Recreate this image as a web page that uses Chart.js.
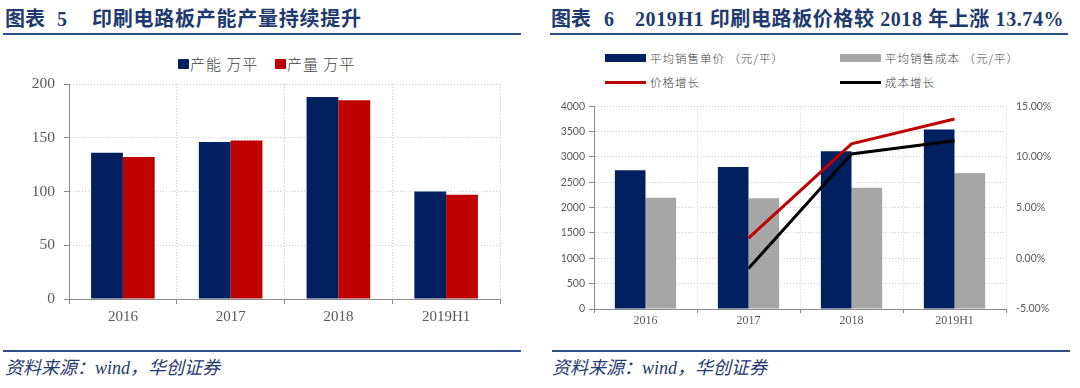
<!DOCTYPE html>
<html><head><meta charset="utf-8">
<script src="https://cdn.jsdelivr.net/npm/chart.js@4.4.1/dist/chart.umd.min.js"></script>
<style>
body{margin:0;width:1080px;height:388px;background:#fff;position:relative;overflow:hidden;font-family:"Noto Sans CJK SC",sans-serif;}
.t{position:absolute;top:7px;line-height:24px;height:24px;color:#1F3A6E;font-weight:700;font-size:20px;white-space:nowrap;font-family:"Liberation Serif","Noto Sans CJK SC",serif;}
.rule{position:absolute;height:2px;background:#2F4F86;}
.src{position:absolute;top:357px;line-height:22px;font-style:italic;color:#1F3A6E;font-size:18px;white-space:nowrap;font-family:"Liberation Serif","Noto Sans CJK SC",serif;}
canvas{position:absolute;}
.lg{position:absolute;font-size:11.5px;color:#404040;letter-spacing:1px;white-space:nowrap;font-weight:300;line-height:14px;}
.lg i{position:absolute;left:-45px;width:41px;}
.lg1{position:absolute;font-size:15px;color:#404040;letter-spacing:1px;white-space:nowrap;font-weight:300;line-height:20px;top:54px;}
.lg1 i{position:absolute;left:-12px;top:5px;width:11px;height:10px;border-radius:1px;}
</style></head>
<body>
<div class="t" style="left:5px">图表</div>
<div class="t" style="left:57px">5</div>
<div class="t" style="left:92px;letter-spacing:0.75px">印刷电路板产能产量持续提升</div>
<div class="rule" style="left:3px;width:518px;top:33px"></div>

<div class="t" style="left:551px">图表</div>
<div class="t" style="left:604px">6</div>
<div class="t" style="left:635px;letter-spacing:0.6px">2019H1 印刷电路板价格较 2018 年上涨 13.74%</div>
<div class="rule" style="left:550px;width:518px;top:33px"></div>

<div class="rule" style="left:3px;width:518px;top:350px"></div>
<div class="rule" style="left:552px;width:518px;top:350px"></div>
<div class="src" style="left:5px">资料来源：wind，华创证券</div>
<div class="src" style="left:552px">资料来源：wind，华创证券</div>

<div id="lg1"></div>
<canvas id="c1" width="520" height="298" style="left:0;top:40px;width:520px;height:298px"></canvas>
<div id="lg2"></div>
<canvas id="c2" width="540" height="250" style="left:540px;top:90px;width:540px;height:250px"></canvas>

<script>
// ---- data: chart 5 ----
const categories = ['2016', '2017', '2018', '2019H1'];
const capacityLabel = '产能 万平';
const outputLabel = '产量 万平';
const capacity = [136, 146, 188, 100];
const output = [132, 147.5, 185, 97];
const leftTicks = [0, 50, 100, 150, 200];

// ---- data: chart 6 ----
const priceLabel = '平均销售单价 （元/平）';
const costLabel = '平均销售成本 （元/平）';
const priceGrowthLabel = '价格增长';
const costGrowthLabel = '成本增长';
const avgPrice = [2736, 2800, 3111, 3540];
const avgCost = [2195, 2184, 2392, 2684];
const priceGrowth = [null, 2.0, 11.3, 13.74];
const costGrowth = [null, -1.0, 10.3, 11.6];
const priceTicks = [0, 500, 1000, 1500, 2000, 2500, 3000, 3500, 4000];
const growthTicks = [-5, 0, 5, 10, 15];

const NAVY = '#002060', RED = '#C00000', GRAY = '#A6A6A6', BLACK = '#000000';
const GRID = '#CFCFCF', AXIS = '#8C8C8C', TICK = '#595959';

const chart1 = new Chart(document.getElementById('c1'), {
  type: 'bar',
  data: {
    labels: categories,
    datasets: [
      {label: capacityLabel, data: capacity, backgroundColor: NAVY, categoryPercentage: 0.59, barPercentage: 1},
      {label: outputLabel, data: output, backgroundColor: RED, categoryPercentage: 0.59, barPercentage: 1}
    ]
  },
  options: {
    responsive: false, animation: false,
    layout: {padding: {left: 0, right: 20, top: 44, bottom: 0}},
    plugins: {tooltip: {enabled: false}, legend: {display: false}},
    scales: {
      x: {
        offset: true,
        grid: {offset: true, color: GRID, borderDash: [1, 2], tickBorderDash: [], tickColor: AXIS, tickLength: 5, drawTicks: true},
        border: {display: true, color: AXIS, width: 1, dash: [1, 2]},
        ticks: {color: TICK, padding: 4, font: {family: '"Liberation Serif"', size: 15}},
        afterFit: s => { s.height = 39; }
      },
      y: {
        min: 0, max: 200,
        afterBuildTicks: s => { s.ticks = leftTicks.map(v => ({value: v})); },
        grid: {color: GRID, borderDash: [1, 2], tickBorderDash: [], tickColor: AXIS, tickLength: 5},
        border: {display: true, color: AXIS, width: 1, dash: [1, 2]},
        ticks: {color: TICK, padding: 9, font: {family: '"Liberation Serif"', size: 15.5}, callback: v => String(v)},
        afterFit: s => { s.width = 69; }
      }
    }
  }
});

const ds2 = [
  {type: 'line', label: priceGrowthLabel, data: priceGrowth, yAxisID: 'y1', borderColor: RED, borderWidth: 3, pointRadius: 0, order: 0, fill: false},
  {type: 'line', label: costGrowthLabel, data: costGrowth, yAxisID: 'y1', borderColor: BLACK, borderWidth: 3, pointRadius: 0, order: 0, fill: false},
  {type: 'bar', label: priceLabel, data: avgPrice, yAxisID: 'y', backgroundColor: NAVY, categoryPercentage: 0.595, barPercentage: 1, order: 1},
  {type: 'bar', label: costLabel, data: avgCost, yAxisID: 'y', backgroundColor: GRAY, categoryPercentage: 0.595, barPercentage: 1, order: 1}
];

const chart2 = new Chart(document.getElementById('c2'), {
  data: {labels: categories, datasets: ds2},
  options: {
    responsive: false, animation: false,
    layout: {padding: {left: 0, right: 0, top: 13, bottom: 0}},
    plugins: {legend: {display: false}, tooltip: {enabled: false}},
    scales: {
      x: {
        offset: true,
        grid: {offset: true, color: GRID, borderDash: [1, 2], tickBorderDash: [], tickColor: AXIS, tickLength: 4},
        border: {display: true, color: AXIS, width: 1, dash: [1, 2]},
        ticks: {color: TICK, padding: 1, font: {family: '"Liberation Serif"', size: 12}},
        afterFit: s => { s.height = 31; }
      },
      y: {
        position: 'left', min: 0, max: 4000,
        afterBuildTicks: s => { s.ticks = priceTicks.map(v => ({value: v})); },
        grid: {color: GRID, borderDash: [1, 2], tickBorderDash: [], tickColor: AXIS, tickLength: 5},
        border: {display: true, color: AXIS, width: 1, dash: [1, 2]},
        ticks: {color: TICK, padding: 4, font: {family: 'Lato', size: 10.5}, callback: v => String(v)},
        afterFit: s => { s.width = 54; }
      },
      y1: {
        position: 'right', min: -5, max: 15,
        afterBuildTicks: s => { s.ticks = growthTicks.map(v => ({value: v})); },
        grid: {display: false, drawTicks: false},
        border: {display: false},
        ticks: {color: TICK, padding: 10, font: {family: 'Lato', size: 10.5}, callback: v => v.toFixed(2) + '%'},
        afterFit: s => { s.width = 74; }
      }
    }
  }
});

// HTML legends built from the charts' datasets
const lg1Pos = [190, 287];
const lg1 = document.getElementById('lg1');
chart1.data.datasets.forEach((d, i) => {
  const el = document.createElement('div');
  el.className = 'lg1';
  el.style.left = lg1Pos[i] + 'px';
  const mk = document.createElement('i');
  mk.style.background = d.backgroundColor;
  el.appendChild(mk);
  el.appendChild(document.createTextNode(d.label));
  lg1.appendChild(el);
});

const lgPos = {
  [priceLabel]: [650, 51], [costLabel]: [885, 51],
  [priceGrowthLabel]: [650, 75], [costGrowthLabel]: [885, 75]
};
const lg = document.getElementById('lg2');
chart2.data.datasets.forEach(d => {
  const p = lgPos[d.label];
  const el = document.createElement('div');
  el.className = 'lg';
  el.style.left = p[0] + 'px'; el.style.top = p[1] + 'px';
  const mk = document.createElement('i');
  if (d.type === 'bar') { mk.style.top = '3px'; mk.style.height = '8px'; mk.style.background = d.backgroundColor; }
  else { mk.style.top = '6px'; mk.style.height = '3px'; mk.style.background = d.borderColor; }
  el.appendChild(mk);
  el.appendChild(document.createTextNode(d.label));
  lg.appendChild(el);
});
</script>
</body></html>
